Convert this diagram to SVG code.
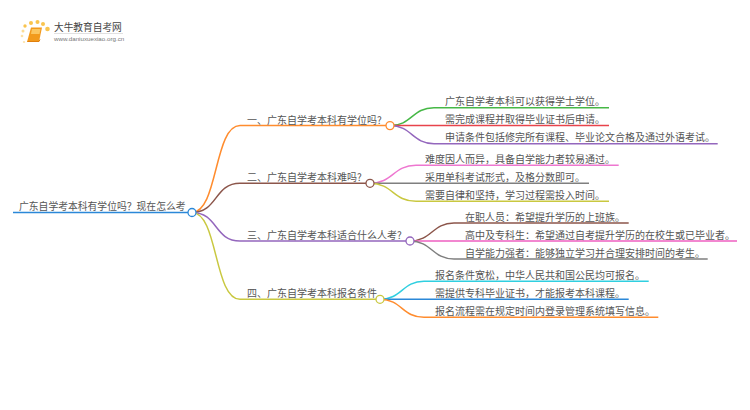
<svg xmlns="http://www.w3.org/2000/svg" width="750" height="410" viewBox="0 0 750 410">
<style>
text{font-family:"Noto Sans CJK SC","Noto Sans",sans-serif;font-size:10px;fill:#555}
.c{fill:none;stroke-width:1.5}
.d{fill:#fff;stroke-width:1.3}
.s{fill:#f9c44f}
</style>
<defs><filter id="b" x="-20%" y="-20%" width="140%" height="140%"><feGaussianBlur stdDeviation="0.5"/></filter></defs>
<rect width="750" height="410" fill="#fff"/>
<g id="logo">
<g filter="url(#b)">
<circle class="s" cx="23" cy="31" r="1.5" opacity=".6"/><circle class="s" cx="22" cy="36" r="1.3" opacity=".5"/><circle class="s" cx="25" cy="26" r="1.7"/><circle class="s" cx="31" cy="23" r="2"/><circle class="s" cx="37.500" cy="22" r="2"/><circle class="s" cx="43" cy="24" r="2"/><circle class="s" cx="47.500" cy="29" r="2.300"/><circle class="s" cx="24" cy="42" r="1.100" opacity=".5"/>
<path d="M31 27.500h11l-3 14.500H27z" fill="#f29a1f"/><path d="M32 29h8.500l-1 5h-8.500z" fill="#fbc660"/><path d="M27.500 41.500h11.500l1-2" fill="none" stroke="#e07f10"/>
</g>
<text x="54" y="31" style="font-size:9.700px;fill:#444">大牛教育自考网</text>
<path d="M54 33.500h69" stroke="#ccc" stroke-width=".6"/>
<text x="54" y="41" style="font-family:'Liberation Sans',sans-serif;font-size:6.200px;fill:#777">www.daniuxuexiao.org.cn</text>
</g>
<g id="connectors">
<path class="c" stroke="#2b88d8" d="M13 212.500H192"/>
<path class="c" stroke="#ff8c2e" d="M192 212.500C218 212.500 214 125.600 240 125.600H390"/>
<path class="c" stroke="#8c564b" d="M192 212.500C218 212.500 214 183.300 240 183.300H370"/>
<path class="c" stroke="#9467bd" d="M192 212.500C218 212.500 214 241 240 241H410"/>
<path class="c" stroke="#c9c840" d="M192 212.500C218 212.500 214 299.300 240 299.300H380"/>
<path class="c" stroke="#46b846" d="M390 125.600C412 125.600 412 107.700 434 107.700H609"/>
<path class="c" stroke="#e8434b" d="M390 125.600H609"/>
<path class="c" stroke="#9467bd" d="M390 125.600C412 125.600 412 143.700 434 143.700H717.700"/>
<path class="c" stroke="#ee77d0" d="M370 183.300C393 183.300 393 165.300 416 165.300H618.700"/>
<path class="c" stroke="#7f7f7f" d="M370 183.300H589"/>
<path class="c" stroke="#c9c840" d="M370 183.300C393 183.300 393 201.300 416 201.300H609"/>
<path class="c" stroke="#8c564b" d="M410 241C432 241 432 223 454 223H628.700"/>
<path class="c" stroke="#ee5fc0" d="M410 241H737"/>
<path class="c" stroke="#7f7f7f" d="M410 241C432 241 432 259 454 259H707.700"/>
<path class="c" stroke="#30cfe0" d="M380 299.300C402 299.300 402 281.300 424 281.300H648.700"/>
<path class="c" stroke="#2b88d8" d="M380 299.300H628.700"/>
<path class="c" stroke="#ff8c2e" d="M380 299.300C402 299.300 402 317.300 424 317.300H658.300"/>
</g>
<g id="root"><text x="19" y="210" style="font-size:9.800px">广东自学考本科有学位吗？现在怎么考</text><circle class="d" stroke="#2b88d8" cx="192" cy="212.500" r="4"/></g>
<g id="b1"><text x="247" y="123.500">一、广东自学考本科有学位吗?</text><circle class="d" stroke="#ff8c2e" cx="390" cy="125.600" r="4"/></g>
<g id="b2"><text x="247" y="181">二、广东自学考本科难吗?</text><circle class="d" stroke="#8c564b" cx="370" cy="183.300" r="4"/></g>
<g id="b3"><text x="247" y="239">三、广东自学考本科适合什么人考?</text><circle class="d" stroke="#9467bd" cx="410" cy="241" r="4"/></g>
<g id="b4"><text x="247" y="297">四、广东自学考本科报名条件</text><circle class="d" stroke="#c9c840" cx="380" cy="299.300" r="4"/></g>
<g id="l11"><text x="445" y="105">广东自学考本科可以获得学士学位。</text></g>
<g id="l12"><text x="445" y="123">需完成课程并取得毕业证书后申请。</text></g>
<g id="l13"><text x="445" y="141">申请条件包括修完所有课程、毕业论文合格及通过外语考试。</text></g>
<g id="l21"><text x="425" y="163">难度因人而异，具备自学能力者较易通过。</text></g>
<g id="l22"><text x="425" y="181">采用单科考试形式，及格分数即可。</text></g>
<g id="l23"><text x="425" y="199">需要自律和坚持，学习过程需投入时间。</text></g>
<g id="l31"><text x="465" y="221">在职人员：希望提升学历的上班族。</text></g>
<g id="l32"><text x="465" y="239">高中及专科生：希望通过自考提升学历的在校生或已毕业者。</text></g>
<g id="l33"><text x="465" y="257">自学能力强者：能够独立学习并合理安排时间的考生。</text></g>
<g id="l41"><text x="435" y="279">报名条件宽松，中华人民共和国公民均可报名。</text></g>
<g id="l42"><text x="435" y="297">需提供专科毕业证书，才能报考本科课程。</text></g>
<g id="l43"><text x="435" y="315">报名流程需在规定时间内登录管理系统填写信息。</text></g>
</svg>
